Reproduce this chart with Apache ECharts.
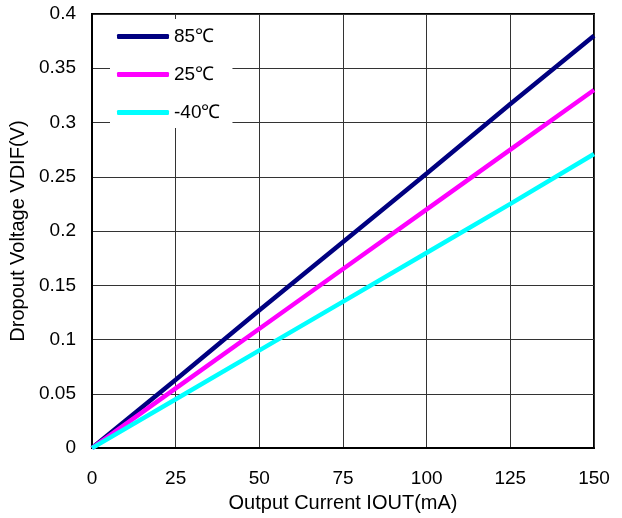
<!DOCTYPE html>
<html>
<head>
<meta charset="utf-8">
<script src="https://cdn.jsdelivr.net/npm/echarts@6/dist/echarts.min.js"></script>
<style>
  html, body { margin: 0; padding: 0; background: #fff; }
  #chart { width: 622px; height: 518px; }
</style>
</head>
<body>
<div id="chart"></div>
<script>
// output current (mA)
const currents = [0, 25, 50, 75, 100, 125, 150];
// dropout voltage (V) per temperature
const v85 = [0, 0.063, 0.127, 0.19, 0.253, 0.317, 0.38];
const v25 = [0, 0.055, 0.11, 0.165, 0.22, 0.275, 0.33];
const vm40 = [0, 0.045, 0.09, 0.135, 0.18, 0.225, 0.271];
const seriesNames = ["85℃", "25℃", "-40℃"];
const seriesColors = ["#000080", "#ff00ff", "#00ffff"];

const pairs = (ys) => currents.map((x, i) => [x, ys[i]]);

const chart = echarts.init(document.getElementById("chart"));
const font = "Liberation Sans, Arial, sans-serif";

chart.setOption({
  animation: false,
  textStyle: { fontFamily: font },
  grid: {
    left: 92,
    top: 14,
    right: 28,
    bottom: 68,
    show: true,
    borderColor: "#000",
    borderWidth: 2,
  },
  legend: {
    orient: "vertical",
    left: 110,
    top: 19,
    padding: [8, 12, 6, 7],
    backgroundColor: "#fff",
    itemWidth: 52,
    itemHeight: 5,
    itemGap: 19,
    icon: "roundRect",
    textStyle: { fontSize: 19, color: "#000", fontFamily: font },
    data: seriesNames,
  },
  xAxis: {
    type: "value",
    min: 0,
    max: 150,
    interval: 25,
    name: "Output Current IOUT(mA)",
    nameLocation: "middle",
    nameGap: 31,
    nameTextStyle: { fontSize: 20, color: "#000", fontFamily: font },
    axisLine: { show: true, lineStyle: { color: "#000", width: 2 } },
    axisTick: { show: false },
    axisLabel: { fontSize: 19, color: "#000", margin: 21, fontFamily: font },
    splitLine: { show: true, lineStyle: { color: "#333", width: 1 } },
  },
  yAxis: {
    type: "value",
    min: 0,
    max: 0.4,
    interval: 0.05,
    name: "Dropout Voltage VDIF(V)",
    nameLocation: "middle",
    nameRotate: 90,
    nameGap: 62,
    nameTextStyle: { fontSize: 20, color: "#000", fontFamily: font },
    axisLine: { show: true, lineStyle: { color: "#000", width: 2 } },
    axisTick: { show: false },
    axisLabel: {
      fontSize: 19,
      color: "#000",
      margin: 16,
      fontFamily: font,
      formatter: (v) => String(Math.round(v * 100) / 100),
    },
    splitLine: { show: true, lineStyle: { color: "#333", width: 1 } },
  },
  series: [v85, v25, vm40].map((ys, i) => ({
    name: seriesNames[i],
    type: "line",
    data: pairs(ys),
    showSymbol: false,
    symbol: "none",
    itemStyle: { color: seriesColors[i] },
    lineStyle: { color: seriesColors[i], width: 4.5 },
  })),
});
</script>
</body>
</html>
